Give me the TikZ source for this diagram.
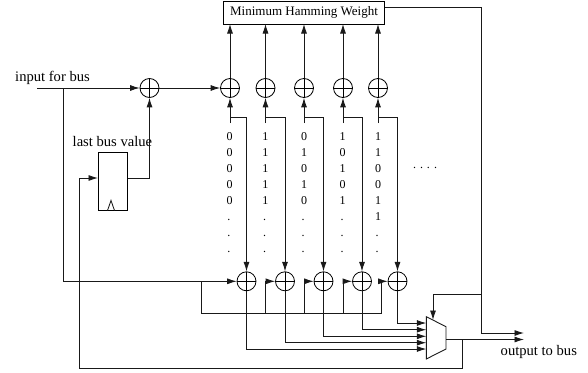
\documentclass[tikz,border=0pt]{standalone}
\usepackage{fontspec}
\setmainfont{Liberation Serif}
\usetikzlibrary{arrows.meta}
\begin{document}
\begin{tikzpicture}[x=1pt,y=-1pt,
  wire/.style={draw=black!90,line width=0.85pt},
  arr/.style={wire,-{Latex[length=9.5pt,width=6pt]}},
  xorg/.style={circle,draw,line width=0.8pt,minimum size=19pt,inner sep=0pt,
    path picture={\draw[line width=0.7pt] (path picture bounding box.north)--(path picture bounding box.south)
      (path picture bounding box.west)--(path picture bounding box.east);}},
  lab/.style={font=\fontsize{14.6pt}{15pt}\selectfont,inner sep=0pt},
  boxlab/.style={font=\fontsize{13pt}{14pt}\selectfont},
  bit/.style={font=\fontsize{12pt}{13pt}\selectfont,inner sep=0pt,anchor=base},
  box/.style={draw,line width=0.9pt,inner sep=0pt}]
\useasboundingbox (0,0) rectangle (588,372);
\node[box,minimum width=161pt,minimum height=23pt,boxlab] (mhw) at (304,12.5) {Minimum Hamming Weight};
\node[xorg] (x0) at (149.5,88) {};
\foreach \n/\xx in {1/230,2/265.5,3/304,4/343,5/378}{
  \node[xorg] (t\n) at (\xx,88) {};
  \coordinate (s\n) at (\xx,123);
  \coordinate (k\n) at (\xx,117);
  \coordinate (m\n) at (\xx,24);
  \draw[arr] (t\n) -- (m\n);
  \draw[arr] (s\n) -- (t\n);
}
\foreach \n/\xx in {1/246.5,2/285,3/323.5,4/362,5/397.5}{
  \node[xorg] (b\n) at (\xx,281.3) {};
  \coordinate (k\n r) at (\xx,117);
  \draw[arr] (k\n) -- (k\n r) -- (b\n);
}
% input
\node[lab,anchor=base west] (inp) at (15,81) {input for bus};
\coordinate (in) at (37,88);
\coordinate (j1) at (63,88);
\coordinate (j2) at (63,281.3);
\draw[arr] (in) -- (x0);
\draw[arr] (x0) -- (t1);
\draw[arr] (j1) -- (j2) -- (b1);
% register
\node[lab,anchor=base west] (lbv) at (72.5,146) {last bus value};
\node[draw,line width=0.8pt,minimum width=29.5pt,minimum height=58.5pt,inner sep=0pt] (reg) at (112.7,181.3) {};
\coordinate (ck1) at (107.5,210.5);
\coordinate (ck2) at (111,200.5);
\coordinate (ck3) at (114.5,210.5);
\draw[wire] (ck1) -- (ck2) -- (ck3);
\coordinate (regin) at (98,178);
\coordinate (regout) at (127.5,178);
\draw[arr] (regout) -| (x0);
% second bus
\coordinate (f0) at (201,281.3);
\coordinate (f0b) at (201,313.5);
\coordinate (fe) at (381.7,313.5);
\draw[wire] (f0) -- (f0b) -- (fe);
\foreach \n/\xx in {2/265.5,3/304,4/343,5/381.7}{
  \coordinate (fb\n) at (\xx,313.5);
  \coordinate (fc\n) at (\xx,281.3);
  \draw[arr] (fb\n) -- (fc\n) -- (b\n);
}
% mux
\coordinate (mtl) at (426.3,316.7);
\coordinate (mtr) at (446,326.7);
\coordinate (mbr) at (446,349);
\coordinate (mbl) at (426.3,359);
\draw[line width=0.9pt,draw=black!90] (mtl) -- (mtr) -- (mbr) -- (mbl) -- cycle;
\foreach \n/\yy in {1/349,2/342.7,3/336.3,4/329.7,5/323}{
  \coordinate (mi\n) at (426.3,\yy);
  \draw[arr] (b\n) |- (mi\n);
}
% select & output
\coordinate (w1) at (384.5,7.5);
\coordinate (w2) at (481,7.5);
\coordinate (w3) at (481,333);
\coordinate (o1) at (524,333);
\coordinate (sj) at (481,294);
\coordinate (sa) at (433,294);
\coordinate (se) at (433,320);
\draw[arr] (w1) -- (w2) -- (w3) -- (o1);
\draw[arr] (sj) -- (sa) -- (se);
\coordinate (mo) at (446,339.5);
\coordinate (o2) at (524,339.5);
\draw[arr] (mo) -- (o2);
\coordinate (fb0) at (462,339.5);
\coordinate (fb1) at (462,368);
\coordinate (fb2) at (79,368);
\coordinate (fb3) at (79,178);
\draw[wire] (fb0) -- (fb1) -- (fb2) -- (fb3);
\draw[arr] (fb3) -- (regin);
\node[lab,anchor=base west] (outp) at (500.5,355) {output to bus};
% bits
\foreach \n/\xx/\bits in {1/229.7/{0,0,0,0,0},2/265.3/{1,1,1,1,1},3/304/{0,1,0,1,0},4/342.7/{1,0,1,0,1},5/378/{1,1,0,0,1,1}}{
  \foreach \b [count=\i] in \bits {
    \node[bit] (d\n-\i) at (\xx,124+16.05*\i) {\b};
  }
}
\foreach \n/\xx in {1/228.8,2/264.5,3/303,4/342}{
  \node[bit] (e\n-1) at (\xx,220) {.};
}
\foreach \n/\xx in {1/228.8,2/264.5,3/303,4/342,5/377}{
  \node[bit] (e\n-2) at (\xx,236.5) {.};
  \node[bit] (e\n-3) at (\xx,252.5) {.};
}
\node[bit] (more) at (425,168.5) {. . . .};
\end{tikzpicture}
\end{document}
